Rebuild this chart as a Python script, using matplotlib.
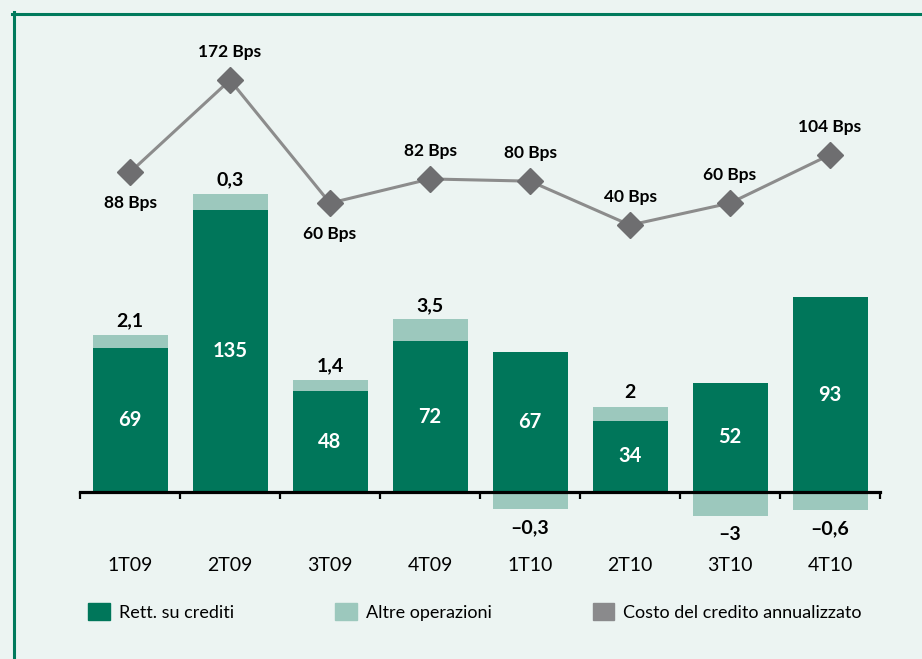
import matplotlib
matplotlib.use("Agg")
import matplotlib.pyplot as plt
from matplotlib.patches import Patch
from matplotlib.lines import Line2D

# Data
quarters = ["1T09", "2T09", "3T09", "4T09", "1T10", "2T10", "3T10", "4T10"]
rett_crediti = [69, 135, 48, 72, 67, 34, 52, 93]
# the light segments are drawn larger than their printed value in the source,
# so keep both: the height as drawn and the printed label
altre_drawn = [6.2, 7.7, 5.7, 10.5, -8.3, 6.7, -11.6, -8.8]
altre_labels = ["2,1", "0,3", "1,4", "3,5", "\u20130,3", "2", "\u20133", "\u20130,6"]
costo_bps = [88, 172, 60, 82, 80, 40, 60, 104]
bps_below = [True, False, True, False, False, False, False, False]

dark_green = "#00765a"
light_green = "#9cc8bd"
bg = "#ecf4f2"
line_gray = "#8c8c8c"
marker_gray = "#6e6e70"

plt.rcParams["font.family"] = ["Lato", "DejaVu Sans"]

fig = plt.figure(figsize=(9.22, 6.59), dpi=100, facecolor=bg)
ax = fig.add_axes([0, 0, 1, 1])
ax.set_facecolor("none")
ax.set_xlim(-1.3, 7.92)
ax.set_ylim(-80.0, 235.3)

x = list(range(len(quarters)))

# bars
ax.bar(x, rett_crediti, width=0.75, color=dark_green, zorder=2)
altre_bottom = [r if a > 0 else 0 for r, a in zip(rett_crediti, altre_drawn)]
ax.bar(x, altre_drawn, width=0.75, bottom=altre_bottom, color=light_green, zorder=2)

# labels inside dark bars
for xi, v in zip(x, rett_crediti):
    ax.text(xi, v / 2, str(v), ha="center", va="center", color="white",
            fontsize=14.5, fontweight="bold", zorder=3)

# labels for the light segments
for xi, b, a, lab in zip(x, altre_bottom, altre_drawn, altre_labels):
    if a > 0:
        ax.annotate(lab, (xi, b + a), xytext=(0, 4), textcoords="offset points",
                    ha="center", va="bottom", fontsize=14, fontweight="bold")
    else:
        ax.annotate(lab, (xi, a), xytext=(0, -7), textcoords="offset points",
                    ha="center", va="top", fontsize=14, fontweight="bold")

# axis line with ticks between categories
for s in ["left", "top", "right"]:
    ax.spines[s].set_visible(False)
ax.spines["bottom"].set_position(("data", 0))
ax.spines["bottom"].set_bounds(-0.5, 7.5)
ax.spines["bottom"].set_linewidth(2.3)
ax.spines["bottom"].set_zorder(4)
ax.set_yticks([])
ax.set_xticks(x)
ax.set_xticklabels(quarters, fontsize=14)
ax.set_xticks([i - 0.5 for i in range(len(quarters) + 1)], minor=True)
ax.tick_params(axis="x", which="major", length=0, pad=47)
ax.tick_params(axis="x", which="minor", length=5, width=1.6, direction="out")

# line on its own scale
ax2 = ax.twinx()
ax2.set_position([0, 0, 1, 1])
ax2.set_ylim(-355, 244.9)
ax2.axis("off")
ax2.plot(x, costo_bps, color=line_gray, linewidth=2.2, marker="D",
         markersize=13, markerfacecolor=marker_gray, markeredgecolor=marker_gray,
         zorder=3)
for xi, v, below in zip(x, costo_bps, bps_below):
    if below:
        ax2.annotate(f"{v} Bps", (xi, v), xytext=(0, -22), textcoords="offset points",
                     ha="center", va="center", fontsize=12.5, fontweight="bold")
    else:
        ax2.annotate(f"{v} Bps", (xi, v), xytext=(0, 20), textcoords="offset points",
                     ha="center", va="center", fontsize=12.5, fontweight="bold")

# legend
handles = [Patch(color=dark_green, label="Rett. su crediti"),
           Patch(color=light_green, label="Altre operazioni"),
           Patch(color="#8a8a8c", label="Costo del credito annualizzato")]
fig.legend(handles=handles, loc="center left", bbox_to_anchor=(88 / 922, 1 - 612 / 659),
           ncol=3, frameon=False, fontsize=13, borderpad=0, borderaxespad=0,
           handlelength=1.2, handleheight=1.1, handletextpad=0.5,
           columnspacing=5.6)

# green frame on the left and top
fig.add_artist(Line2D([13.5 / 922, 13.5 / 922], [0, 1 - 12.3 / 659],
                      transform=fig.transFigure, color="#007a5c", linewidth=2.2))
fig.add_artist(Line2D([12.3 / 922, 1], [1 - 13.7 / 659, 1 - 13.7 / 659],
                      transform=fig.transFigure, color="#007a5c", linewidth=2.2))

fig.savefig("out.png", dpi=100, facecolor=bg)
